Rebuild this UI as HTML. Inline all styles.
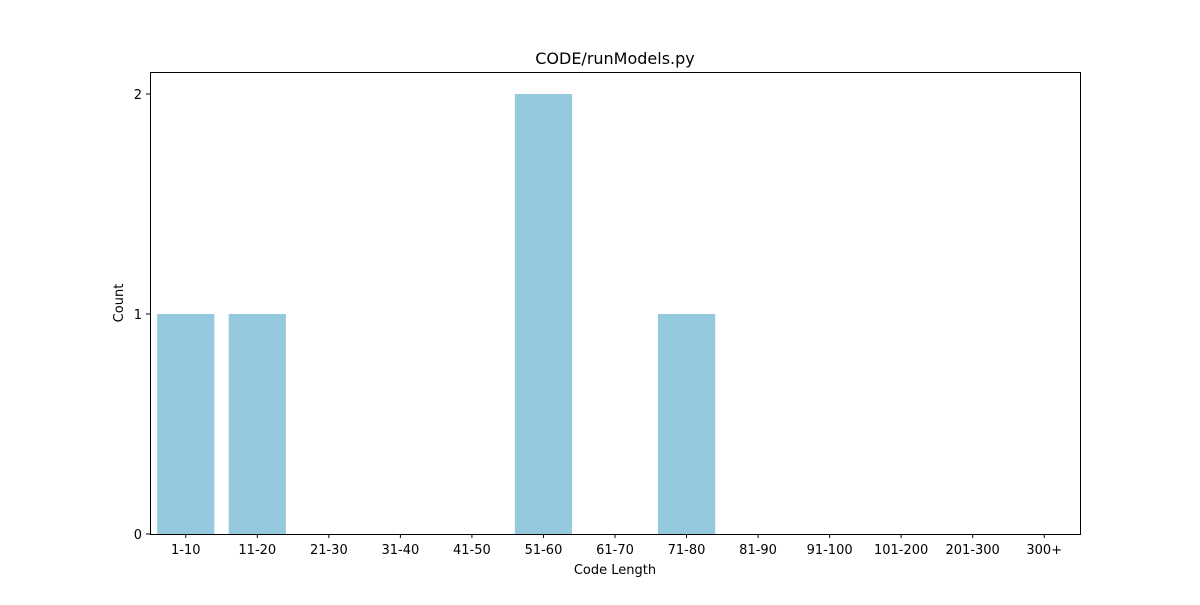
<!DOCTYPE html>
<html><head><meta charset="utf-8"><style>
body{margin:0;background:#fff;font-family:"Liberation Sans","DejaVu Sans",sans-serif;}
svg text{font-family:"DejaVu Sans","Liberation Sans",sans-serif;fill:#000;}
</style></head><body>
<svg id="chart" width="1200" height="600">
<rect width="1200" height="600" fill="#fff"/>
<text x="615" y="64" font-size="16" text-anchor="middle">CODE/runModels.py</text>
<g id="bars"></g>
<g id="xticks"></g>
<g id="yticks"></g>
<rect x="150.5" y="72.5" width="930" height="462" fill="none" stroke="#000" stroke-width="1"/>
<text x="615" y="574" font-size="13" text-anchor="middle">Code Length</text>
<text x="123" y="303" font-size="13" text-anchor="middle" transform="rotate(-90 123 303)">Count</text>
</svg>
<script>
const categories = ["1-10","11-20","21-30","31-40","41-50","51-60","61-70","71-80","81-90","91-100","101-200","201-300","300+"];
const counts = [1,1,0,0,0,2,0,1,0,0,0,0,0];
const yTicks = [0,1,2];
const L=150,R=1080,T=72,B=534,yMax=2.1;
const NS="http://www.w3.org/2000/svg";
const band=(R-L)/categories.length;
const xC=i=>L+(i+0.5)*band;
const y=v=>B-(v/yMax)*(B-T);
const bars=document.getElementById('bars'),xt=document.getElementById('xticks'),yt=document.getElementById('yticks');
categories.forEach((c,i)=>{
  const r=document.createElementNS(NS,'rect');
  r.setAttribute('x',xC(i)-0.4*band);r.setAttribute('width',0.8*band);
  r.setAttribute('y',y(counts[i]));r.setAttribute('height',B-y(counts[i]));
  r.setAttribute('fill','#95c9de');
  
  
  bars.appendChild(r);
  const l=document.createElementNS(NS,'line');
  l.setAttribute('x1',xC(i));l.setAttribute('x2',xC(i));l.setAttribute('y1',B);l.setAttribute('y2',B+4);l.setAttribute('stroke','#000');
  xt.appendChild(l);
  const t=document.createElementNS(NS,'text');
  t.setAttribute('x',xC(i));t.setAttribute('y',B+20);t.setAttribute('font-size','13');t.setAttribute('text-anchor','middle');
  t.textContent=c;
  
  
  xt.appendChild(t);
});
yTicks.forEach(v=>{
  const l=document.createElementNS(NS,'line');
  l.setAttribute('x1',L-4);l.setAttribute('x2',L);l.setAttribute('y1',y(v));l.setAttribute('y2',y(v));l.setAttribute('stroke','#000');
  yt.appendChild(l);
  const t=document.createElementNS(NS,'text');
  t.setAttribute('x',L-8);t.setAttribute('y',y(v)+5);t.setAttribute('font-size','13');t.setAttribute('text-anchor','end');
  t.textContent=v;
  
  
  yt.appendChild(t);
});
</script>
</body></html>
